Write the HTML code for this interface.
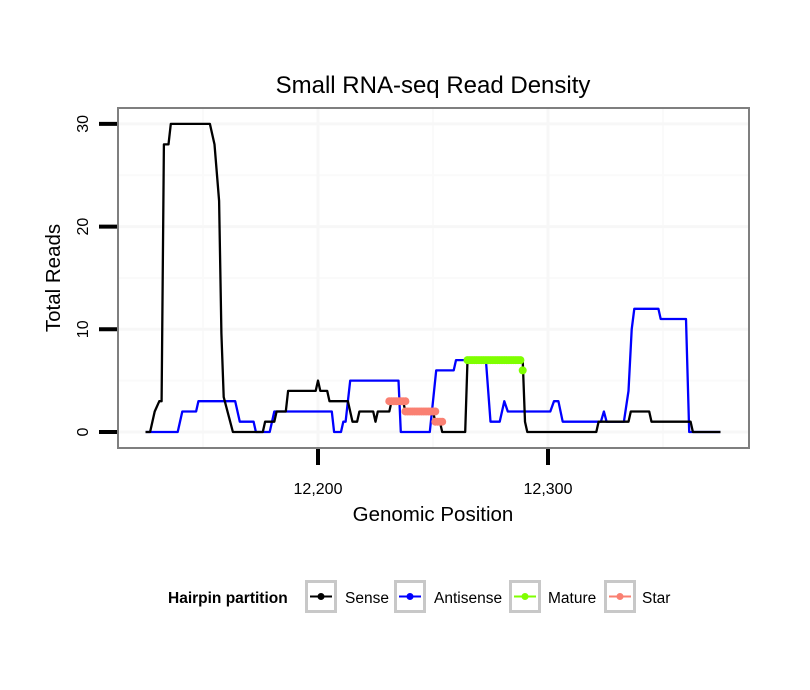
<!DOCTYPE html>
<html><head><meta charset="utf-8"><style>
body{margin:0;background:#fff;}
svg{display:block;font-family:"Liberation Sans",Arial,sans-serif;}
</style></head><body>
<svg id="chart" width="810" height="690" viewBox="0 0 810 690">
<rect width="810" height="690" fill="#fff"/>
<text x="433" y="93" text-anchor="middle" font-size="24" fill="#000">Small RNA-seq Read Density</text>
<g id="grid"></g>
<g id="series"></g>
<rect x="118" y="108" width="631" height="340" fill="none" stroke="#7f7f7f" stroke-width="2"/>
<g id="axes"></g>
<text x="433" y="521" text-anchor="middle" font-size="20.5">Genomic Position</text>
<text transform="translate(60,278) rotate(-90)" text-anchor="middle" font-size="20.5">Total Reads</text>
<g>
<text x="168" y="603" font-size="15.5" font-weight="bold">Hairpin partition</text>
<g id="legend"></g>
</g>
</svg>
<script>
const xTicks=[12200,12300];
const xTickLabels=["12,200","12,300"];
const xMinor=[12150,12250,12350];
const yTicks=[0,10,20,30];
const yTickLabels=["0","10","20","30"];
const yMinor=[5,15,25];
const sense=[[12125,0],[12127,0],[12129,2],[12131,3],[12132,3],[12133,28],[12135,28],[12136,30],[12153,30],[12155,28],[12157,22.5],[12158,9.6],[12159,3.4],[12163,0],[12176,0],[12177,1],[12181,1],[12182,2],[12186,2],[12187,4],[12199,4],[12200,5],[12201,4],[12204,4],[12205,3],[12213,3],[12215,1],[12217,1],[12218,2],[12224,2],[12225,1],[12226,2],[12231,2],[12232,3],[12237,3],[12238,2],[12250,2],[12251,1],[12253,1],[12254,0],[12264,0],[12265,7],[12289,7],[12290,1],[12291,0],[12321,0],[12322,1],[12335,1],[12336,2],[12344,2],[12345,1],[12362,1],[12363,0],[12375,0]];
const antisense=[[12125,0],[12139,0],[12141,2],[12147,2],[12148,3],[12164,3],[12166,1],[12172,1],[12173,0],[12179,0],[12181,2],[12206,2],[12207,0],[12210,0],[12211,1],[12212,1],[12214,5],[12235,5],[12236,0],[12248.6,0],[12250,3],[12251.4,6],[12259,6],[12260,7],[12273,7],[12275,1],[12279,1],[12281,3],[12282.5,2],[12301,2],[12302.6,3],[12304.5,3],[12306.4,1],[12323,1],[12324.3,2],[12325.5,1],[12333,1],[12335,4],[12336.4,10],[12337.5,12],[12348,12],[12349,11],[12360,11],[12361.4,0],[12375,0]];
const matureSegs=[[[12265,7],[12266,7],[12267,7],[12268,7],[12269,7],[12270,7],[12271,7],[12272,7],[12273,7],[12274,7],[12275,7],[12276,7],[12277,7],[12278,7],[12279,7],[12280,7],[12281,7],[12282,7],[12283,7],[12284,7],[12285,7],[12286,7],[12287,7],[12288,7]],[[12289,6]]];
const starSegs=[[[12231,3],[12232,3],[12233,3],[12234,3],[12235,3],[12236,3],[12237,3],[12238,3]],[[12238,2],[12239,2],[12240,2],[12241,2],[12242,2],[12243,2],[12244,2],[12245,2],[12246,2],[12247,2],[12248,2],[12249,2],[12250,2],[12251,2]],[[12251,1],[12252,1],[12253,1],[12254,1]]];
const legendNames=["Sense","Antisense","Mature","Star"];
const legendColors=["#000000","#0000ff","#7fff00","#fa8072"];

const NS="http://www.w3.org/2000/svg";
const X=v=>318+(v-12200)*2.3;
const Y=v=>432-(v)*10.27;
function mk(t,a,p){const e=document.createElementNS(NS,t);for(const k in a)e.setAttribute(k,a[k]);p.appendChild(e);return e;}
const grid=document.getElementById('grid'),axes=document.getElementById('axes'),ser=document.getElementById('series'),leg=document.getElementById('legend');
mk('rect',{x:118,y:108,width:631,height:340,fill:'#fff'},grid);
xMinor.forEach(v=>{const l=mk('line',{x1:X(v),x2:X(v),y1:108,y2:448,stroke:'#fafafa','stroke-width':2},grid);

});
yMinor.forEach(v=>{const l=mk('line',{x1:118,x2:749,y1:Y(v),y2:Y(v),stroke:'#fafafa','stroke-width':2},grid);

});
xTicks.forEach(v=>{const l=mk('line',{x1:X(v),x2:X(v),y1:108,y2:448,stroke:'#f7f7f7','stroke-width':3},grid);

});
yTicks.forEach(v=>{const l=mk('line',{x1:118,x2:749,y1:Y(v),y2:Y(v),stroke:'#f7f7f7','stroke-width':3},grid);

});
xTicks.forEach((v,i)=>{const t=mk('line',{x1:X(v),x2:X(v),y1:449,y2:465,stroke:'#000','stroke-width':4},axes);


const s=mk('text',{x:X(v),y:494,'text-anchor':'middle','font-size':16},axes);s.textContent=xTickLabels[i];

});
yTicks.forEach((v,i)=>{const t=mk('line',{x1:99,x2:117,y1:Y(v),y2:Y(v),stroke:'#000','stroke-width':4},axes);


const s=mk('text',{transform:`translate(88,${Y(v)}) rotate(-90)`,'text-anchor':'middle','font-size':16},axes);s.textContent=yTickLabels[i];

});
function path(pts){return pts.map((p,i)=>(i?'L':'M')+X(p[0]).toFixed(1)+','+Y(p[1]).toFixed(1)).join('');}
const pb=mk('path',{d:path(antisense),fill:'none',stroke:'#0000ff','stroke-width':2.3,'stroke-linejoin':'round'},ser);


const pk=mk('path',{d:path(sense),fill:'none',stroke:'#000','stroke-width':2.3,'stroke-linejoin':'round'},ser);


function segs(list,col,name){list.forEach(sg=>{
const p=mk('path',{d:path(sg),fill:'none',stroke:col,'stroke-width':7,'stroke-linecap':'round'},ser);


sg.forEach(q=>{const c=mk('circle',{cx:X(q[0]),cy:Y(q[1]),r:4,fill:col},ser);

});});}
segs(starSegs,'#fa8072','star');
segs(matureSegs,'#7fff00','mature');
const bx=[305,394,509,604],lx=[345,434,548,642];
legendNames.forEach((n,i)=>{
const g=mk('g',{},leg);


mk('rect',{x:bx[i]+1.5,y:581.5,width:29,height:30,fill:'#fff',stroke:'#c8c8c8','stroke-width':3},g);
mk('line',{x1:bx[i]+5,x2:bx[i]+27,y1:596.5,y2:596.5,stroke:legendColors[i],'stroke-width':2},g);
mk('circle',{cx:bx[i]+16,cy:596.5,r:3.5,fill:legendColors[i]},g);
const t=mk('text',{x:lx[i],y:603,'font-size':15.5},g);t.textContent=n;});
</script>
</body></html>
